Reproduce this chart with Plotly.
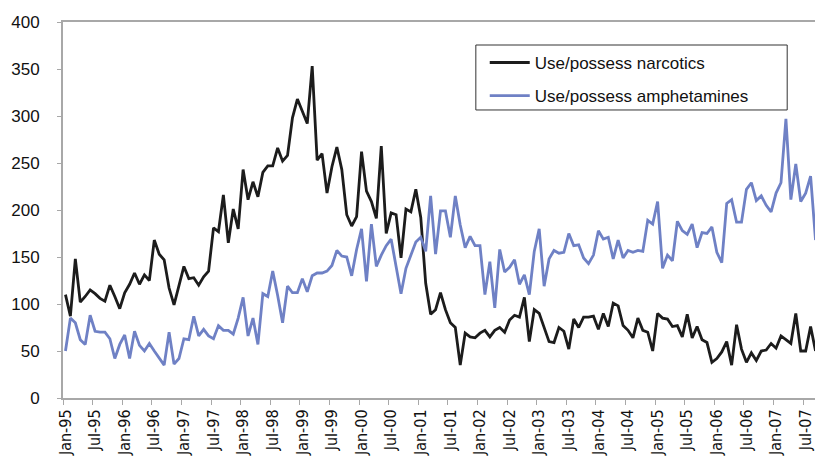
import pandas as pd
import plotly.graph_objects as go

# Monthly categories Jan-95 .. Sep-07
months = list(pd.date_range("1995-01-01", periods=153, freq="MS").strftime("%b-%y"))

narcotics = [
    110, 87, 148, 102, 108, 115, 111, 106, 103, 120, 108, 95,
    112, 121, 133, 121, 131, 125, 168, 153, 147, 117, 99, 120,
    140, 127, 128, 120, 129, 135, 181, 177, 216, 165, 201, 180,
    243, 211, 230, 214, 240, 247, 247, 266, 252, 258, 298, 318,
    305, 292, 353, 253, 260, 218, 246, 267, 243, 195, 183, 193,
    262, 220, 209, 191, 268, 175, 197, 195, 149, 201, 198, 222,
    192, 122, 89, 94, 112, 94, 80, 75, 35, 69, 65, 64,
    69, 72, 65, 72, 75, 70, 83, 88, 86, 107, 60, 94,
    90, 75, 60, 59, 75, 71, 52, 84, 75, 86, 86, 87,
    73, 90, 76, 101, 98, 77, 72, 64, 85, 72, 70, 50,
    90, 85, 84, 76, 77, 65, 89, 64, 76, 62, 59, 38,
    42, 49, 60, 35, 78, 52, 38, 48, 40, 50, 51, 58,
    53, 66, 62, 58, 90, 50, 50, 76, 50,
]

amphetamines = [
    50, 85, 80, 62, 57, 88, 71, 70, 70, 63, 42, 57,
    67, 42, 71, 56, 50, 58, 50, 43, 35, 70, 36, 42,
    63, 62, 87, 66, 73, 66, 63, 77, 72, 72, 68, 85,
    107, 66, 85, 57, 111, 108, 135, 109, 80, 119, 112, 112,
    127, 113, 130, 133, 133, 135, 141, 157, 151, 150, 130, 158,
    180, 124, 185, 140, 152, 162, 169, 140, 111, 138, 152, 166,
    171, 156, 215, 153, 199, 199, 171, 215, 184, 160, 172, 162,
    162, 110, 145, 96, 158, 134, 139, 147, 121, 131, 110, 156,
    180, 119, 148, 157, 154, 155, 175, 162, 163, 149, 143, 152,
    178, 169, 171, 148, 168, 149, 157, 155, 157, 156, 189, 185,
    209, 138, 152, 146, 188, 178, 174, 185, 160, 176, 175, 182,
    155, 144, 207, 211, 187, 187, 222, 229, 210, 215, 205, 198,
    218, 229, 297, 211, 249, 209, 218, 236, 168,
]

series_names = ["Use/possess narcotics", "Use/possess amphetamines"]
series_colors = ["#1c1c1c", "#6f81c5"]

y_ticks = [0, 50, 100, 150, 200, 250, 300, 350, 400]

fig = go.Figure()
for i, (name, vals, col) in enumerate(zip(series_names, [narcotics, amphetamines], series_colors)):
    fig.add_trace(go.Scatter(
        x=months, y=vals, mode="lines", name=name,
        line=dict(color=col, width=2.8),
        legendgroup=f"g{i}",
    ))

axis_grey = "#a8a8a8"
# page has an 8px body margin, so the figure is 8px smaller than the window
fig.update_layout(
    width=815, height=463,
    margin=dict(l=53, r=3, t=14, b=73),
    paper_bgcolor="white", plot_bgcolor="white",
    font=dict(family="Liberation Sans, Arial, sans-serif", size=17, color="#111111"),
    showlegend=True,
    legend=dict(
        x=0.5586, y=0.939, xanchor="left", yanchor="top",
        borderwidth=0, bgcolor="rgba(0,0,0,0)",
        font=dict(size=17, color="#111111"),
        tracegroupgap=8,
        itemwidth=40,
    ),
    shapes=[dict(
        type="rect", xref="paper", yref="paper",
        x0=0.5468, x1=0.9592, y0=0.766, y1=0.9388,
        line=dict(color="#333333", width=1), fillcolor="rgba(0,0,0,0)",
        layer="above",
    )],
)
fig.update_xaxes(
    type="category", range=[-0.5, len(months) - 0.5],
    tickmode="linear", tick0=0, dtick=6, tickson="boundaries",
    tickangle=-90, ticks="outside", ticklen=5, tickcolor=axis_grey,
    showline=True, linecolor=axis_grey, linewidth=2, mirror=True,
    showgrid=False, zeroline=False,
    tickfont=dict(family="Liberation Sans Narrow, DejaVu Sans Condensed, Arial Narrow, sans-serif", size=16, color="#111111"),
    ticklabelstandoff=3,
)
fig.update_yaxes(
    range=[0, 400], tickmode="array", tickvals=y_ticks,
    ticks="outside", ticklen=4, tickcolor=axis_grey,
    showline=True, linecolor=axis_grey, linewidth=2, mirror=True,
    showgrid=False, zeroline=False,
    tickfont=dict(size=17, color="#111111"),
    ticklabelstandoff=14,
)

fig.write_html("out.html")
